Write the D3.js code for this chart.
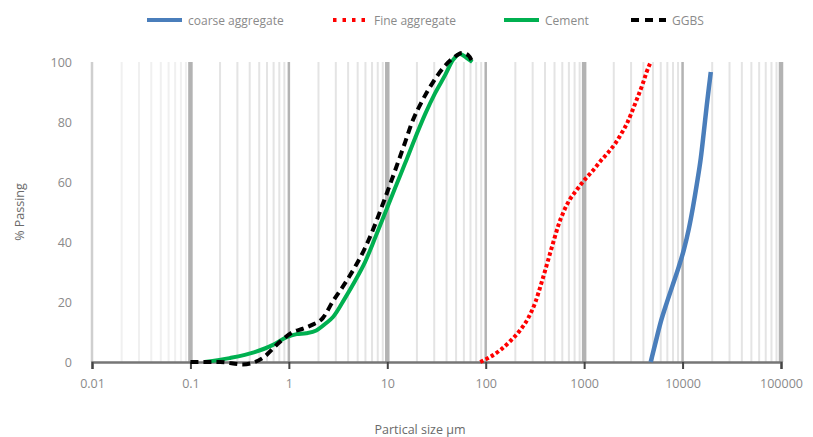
<!DOCTYPE html>
<html>
<head>
<meta charset="utf-8">
<script src="https://cdn.jsdelivr.net/npm/d3@7/dist/d3.min.js"></script>
<style>
  html, body { margin: 0; padding: 0; background: #fff; }
  svg { display: block; font-family: "Open Sans", "Liberation Sans", sans-serif; }
</style>
</head>
<body>
<svg id="chart" width="813" height="437"></svg>
<script>
// ---------------- data ----------------
const seriesNames = ["coarse aggregate", "Fine aggregate", "Cement", "GGBS"];
const xTickValues = [0.01, 0.1, 1, 10, 100, 1000, 10000, 100000];
const xTickLabels = ["0.01", "0.1", "1", "10", "100", "1000", "10000", "100000"];
const yTickValues = [0, 20, 40, 60, 80, 100];

const coarseSize    = [4745, 5333, 5995, 6903, 7946, 9146, 10280, 11560, 12700, 13960, 15320, 16440, 17630, 18920, 19360];
const coarsePassing = [0, 6.7, 13.3, 19.7, 25.7, 31.7, 37.3, 44.3, 51.3, 59.3, 68, 76.7, 85.7, 94, 96.7];

const fineSize    = [88, 111, 141, 178, 225, 271, 320, 368, 414, 455, 500, 549, 617, 710, 837, 1010, 1218, 1469, 1771, 2088, 2404, 2767, 3111, 3499, 3936, 4318, 4745];
const finePassing = [0, 1.7, 4, 7, 10.7, 14.7, 20, 26.3, 32, 36.7, 41.3, 45.7, 50, 54, 57.3, 60.7, 63.7, 67, 70, 73, 76.3, 80, 84, 88.3, 92.7, 96.7, 100];

const cementSize    = [0.14, 0.25, 0.45, 0.69, 0.95, 1.2, 1.5, 1.9, 2.4, 2.81, 3.72, 4.7, 5.94, 7.51, 9.5, 12.0, 15.2, 19.2, 24.3, 30.7, 38.8, 46.6, 55, 63.2, 73];
const cementPassing = [0, 1.3, 3.3, 5.7, 8.3, 9.3, 9.6, 10.5, 13, 15, 21.3, 27, 33.3, 41.3, 49.7, 58, 66.3, 74.7, 82.7, 89.7, 95.7, 100.7, 102.7, 101.5, 100];

const ggbsSize    = [0.1, 0.2, 0.34, 0.54, 0.81, 1.1, 1.36, 1.7, 2.22, 2.81, 3.63, 4.7, 5.94, 7.34, 8.86, 10.7, 12.9, 15.2, 17.9, 22.6, 29.2, 36.9, 46.6, 57.6, 66.3, 73];
const ggbsPassing = [0, 0, -0.8, 1.3, 6.7, 10, 11, 12.3, 14.7, 20.3, 25.7, 31.7, 38, 45, 52, 59.3, 66.7, 73.3, 80, 87, 93.3, 98, 101.3, 103, 102.3, 100];

// ---------------- layout ----------------
const svg = d3.select("#chart");
const x = d3.scaleLog().domain([0.01, 100000]).range([92, 781]);
const y = d3.scaleLinear().domain([0, 100]).range([362, 62]);

// minor gridlines
const minorVals = [];
for (let e = -2; e < 5; e++) {
  for (let k = 2; k <= 9; k++) minorVals.push(k * Math.pow(10, e));
}
svg.append("g").selectAll("line").data(minorVals).join("line")
  .attr("x1", d => x(d)).attr("x2", d => x(d))
  .attr("y1", y(100)).attr("y2", y(0))
  .attr("stroke", (d) => (d < 0.1 ? "#f0f0f0" : "#e4e4e4"))
  .attr("stroke-width", 2);

// major gridlines
svg.append("g").selectAll("line").data(xTickValues).join("line")
  .attr("x1", d => x(d)).attr("x2", d => x(d))
  .attr("y1", y(100)).attr("y2", y(0))
  .attr("stroke", (d, i) => i === 0 ? "#cfcfcf" : "#b3b3b3")
  .attr("stroke-width", (d, i) => i === 0 ? 2.5 : (i % 2 === 1 ? 4.5 : 2.5));

// x axis
const xAxis = d3.axisBottom(x)
  .tickValues(xTickValues)
  .tickFormat((d, i) => xTickLabels[i])
  .tickSize(7)
  .tickPadding(10);
const gx = svg.append("g").attr("transform", `translate(0,${y(0)})`).call(xAxis);
gx.select(".domain").attr("stroke", "#767676").attr("stroke-width", 2.5);
gx.selectAll(".tick line").attr("stroke", "#444").attr("stroke-width", 2);
gx.selectAll(".tick text").attr("fill", "#8a8a8a").style("font-size", "12.5px")
  .style("font-family", "'Open Sans', sans-serif");

// y axis (labels only)
const yAxis = d3.axisLeft(y).tickValues(yTickValues).tickSize(0).tickPadding(20);
const gy = svg.append("g").attr("transform", `translate(${x(0.01)},0)`).call(yAxis);
gy.select(".domain").remove();
gy.selectAll(".tick text").attr("fill", "#8a8a8a").style("font-size", "12.5px")
  .style("font-family", "'Open Sans', sans-serif");

// axis titles
svg.append("text").attr("x", 420).attr("y", 434).attr("text-anchor", "middle")
  .attr("fill", "#6a6a6a").style("font-size", "12.5px").text("Partical size µm");
svg.append("text").attr("transform", "translate(24,212) rotate(-90)").attr("text-anchor", "middle")
  .attr("fill", "#6a6a6a").style("font-size", "12.5px").text("% Passing");

// series
const series = [
  { name: seriesNames[0], xs: coarseSize, ys: coarsePassing, color: "#4a7ebb", width: 4.5, dash: null, legDash: null },
  { name: seriesNames[1], xs: fineSize, ys: finePassing, color: "#ff0000", width: 4, dash: "3.5,2.5", legDash: "3.5,6" },
  { name: seriesNames[2], xs: cementSize, ys: cementPassing, color: "#00b050", width: 4, dash: null, legDash: null },
  { name: seriesNames[3], xs: ggbsSize, ys: ggbsPassing, color: "#000000", width: 4, dash: "8,5", legDash: "8,6" }
];
const line = d3.line().x(d => x(d[0])).y(d => y(d[1])).curve(d3.curveMonotoneX);
series.forEach(s => {
  const pts = s.xs.map((v, i) => [v, s.ys[i]]);
  svg.append("path").datum(pts)
    .attr("d", line)
    .attr("fill", "none")
    .attr("stroke", s.color)
    .attr("stroke-width", s.width)
    .attr("stroke-dasharray", s.dash)
    .attr("stroke-linejoin", "round");
});

// legend
const legendPos = [147, 333, 504, 631];
const legend = svg.append("g");
series.forEach((s, i) => {
  const g = legend.append("g").attr("transform", `translate(${legendPos[i]},20)`);
  g.append("line").attr("x1", 0).attr("x2", 35).attr("y1", 0).attr("y2", 0)
    .attr("stroke", s.color).attr("stroke-width", 4)
    .attr("stroke-dasharray", s.legDash);
  g.append("text").attr("x", 41).attr("y", 4.5).attr("fill", "#8a8a8a")
    .style("font-size", "12px").text(s.name);
});
</script>
</body>
</html>
